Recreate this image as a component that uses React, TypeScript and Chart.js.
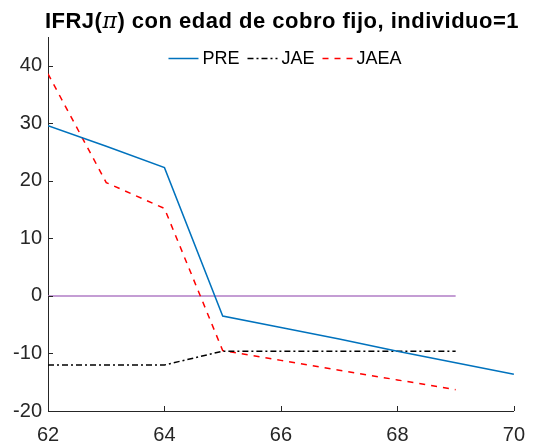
import React, { useEffect, useRef } from "react";
import { Chart, registerables } from "chart.js";

Chart.register(...registerables);

// ---- data ----
const titleParts = ["IFRJ(", "π", ") con edad de cobro fijo, individuo=1"];
const preAges = [62, 63, 64, 65, 66, 67, 68, 69, 70];
const preValues = [29.6, 26.0, 22.3, -3.5, -5.5, -7.5, -9.6, -11.6, -13.6];
const jaeAges = [62, 63, 64, 65, 66, 67, 68, 69];
const jaeValues = [-12.0, -12.0, -12.0, -9.6, -9.6, -9.6, -9.6, -9.6];
const jaeaAges = [62, 63, 64, 65, 66, 67, 68, 69];
const jaeaValues = [38.6, 19.7, 15.2, -9.5, -11.2, -12.9, -14.6, -16.3];
const zeroAges = [62, 63, 64, 65, 66, 67, 68, 69];
const zeroValues = [0, 0, 0, 0, 0, 0, 0, 0];
const seriesLabels = ["PRE", "JAE", "JAEA"];
const xTicks = [62, 64, 66, 68, 70];
const yTicks = [-20, -10, 0, 10, 20, 30, 40];

const FONT = '"Liberation Sans", Arial, Helvetica, sans-serif';
const AXIS_COLOR = "#262626";

const toPoints = (xs: number[], ys: number[]) => xs.map((x, i) => ({ x, y: ys[i] }));

const decorPlugin = {
  id: "matlabDecor",
  afterDraw(chart: any) {
    const ctx = chart.ctx as CanvasRenderingContext2D;
    const { chartArea } = chart;
    const xs = chart.scales.x;
    const ys = chart.scales.y;
    ctx.save();
    // inward ticks
    ctx.strokeStyle = AXIS_COLOR;
    ctx.lineWidth = 1;
    ctx.beginPath();
    xTicks.forEach((v) => {
      const px = Math.round(xs.getPixelForValue(v)) + 0.5;
      ctx.moveTo(px, chartArea.bottom);
      ctx.lineTo(px, chartArea.bottom - 5);
    });
    yTicks.forEach((v) => {
      const py = Math.round(ys.getPixelForValue(v)) + 0.5;
      ctx.moveTo(chartArea.left, py);
      ctx.lineTo(chartArea.left + 5, py);
    });
    ctx.stroke();

    // title
    const boldFont = `bold 22px ${FONT}`;
    const piFont = `italic 22px "DejaVu Serif", "Liberation Serif", serif`;
    const targetW = 474;
    const nChars = titleParts.join("").length;
    (ctx as any).letterSpacing = "0px";
    ctx.font = boldFont;
    let w0 = ctx.measureText(titleParts[0]).width;
    let w2 = ctx.measureText(titleParts[2]).width;
    ctx.font = piFont;
    let w1 = ctx.measureText(titleParts[1]).width;
    const spacing = Math.max(0, (targetW - (w0 + w1 + w2)) / nChars);
    (ctx as any).letterSpacing = `${spacing.toFixed(2)}px`;
    ctx.font = boldFont;
    w0 = ctx.measureText(titleParts[0]).width;
    w2 = ctx.measureText(titleParts[2]).width;
    ctx.font = piFont;
    w1 = ctx.measureText(titleParts[1]).width;
    const total = w0 + w1 + w2;
    const cx = 282;
    let tx = cx - total / 2;
    const ty = 28;
    ctx.fillStyle = "#000000";
    ctx.textBaseline = "alphabetic";
    ctx.textAlign = "left";
    ctx.font = boldFont;
    ctx.fillText(titleParts[0], tx, ty);
    tx += w0;
    ctx.font = piFont;
    ctx.fillText(titleParts[1], tx, ty);
    tx += w1;
    ctx.font = boldFont;
    ctx.fillText(titleParts[2], tx, ty);
    (ctx as any).letterSpacing = "0px";

    // legend
    ctx.font = `18px ${FONT}`;
    const lineLen = 30;
    const gapText = 4;
    const gapItem = 8;
    const items = chart.data.datasets.slice(0, 3);
    const widths = items.map((d: any) => ctx.measureText(d.label).width);
    const totalW = widths.reduce((a: number, w: number) => a + lineLen + gapText + w, 0) + gapItem * (items.length - 1);
    let lx = 285 - totalW / 2;
    const ly = 58;
    items.forEach((d: any, i: number) => {
      ctx.strokeStyle = d.borderColor;
      ctx.lineWidth = d.borderWidth;
      ctx.setLineDash(d.borderDash || []);
      ctx.beginPath();
      ctx.moveTo(lx, ly + 0.5);
      ctx.lineTo(lx + lineLen, ly + 0.5);
      ctx.stroke();
      ctx.setLineDash([]);
      lx += lineLen + gapText;
      ctx.fillStyle = "#000000";
      ctx.textBaseline = "middle";
      ctx.fillText(d.label, lx, ly + 1);
      lx += widths[i] + gapItem;
    });
    ctx.restore();
  },
};

export default function App() {
  const ref = useRef<HTMLCanvasElement | null>(null);
  useEffect(() => {
    document.body.style.margin = "0";
    const canvas = ref.current!;
    const chart = new Chart(canvas, {
      type: "line",
      data: {
        datasets: [
          {
            label: seriesLabels[0],
            data: toPoints(preAges, preValues),
            borderColor: "#0072BD",
            borderWidth: 1.5,
            pointRadius: 0,
            fill: false,
            tension: 0,
          },
          {
            label: seriesLabels[1],
            data: toPoints(jaeAges, jaeValues),
            borderColor: "#000000",
            borderWidth: 1.5,
            borderDash: [6, 3, 2, 3],
            pointRadius: 0,
            fill: false,
            tension: 0,
          },
          {
            label: seriesLabels[2],
            data: toPoints(jaeaAges, jaeaValues),
            borderColor: "#FF0000",
            borderWidth: 1.5,
            borderDash: [6, 6],
            pointRadius: 0,
            fill: false,
            tension: 0,
          },
          {
            label: "zero",
            data: toPoints(zeroAges, zeroValues),
            borderColor: "#b07cc6",
            borderWidth: 1.5,
            pointRadius: 0,
            fill: false,
            tension: 0,
          },
        ],
      },
      options: {
        responsive: false,
        animation: false,
        devicePixelRatio: 1,
        layout: { padding: { top: 37, right: 14, left: 0, bottom: 0 } },
        plugins: {
          legend: { display: false },
          title: { display: false },
          tooltip: { enabled: false },
        },
        scales: {
          x: {
            type: "linear",
            min: 62,
            max: 70,
            grid: { display: false, drawTicks: false },
            border: { display: true, color: AXIS_COLOR, width: 1 },
            ticks: {
              stepSize: 2,
              padding: 12,
              color: AXIS_COLOR,
              font: { family: FONT, size: 20 },
              maxRotation: 0,
            },
            afterBuildTicks: (scale: any) => {
              scale.ticks = xTicks.map((v) => ({ value: v }));
            },
            afterFit: (scale: any) => {
              scale.height = 36;
            },
          },
          y: {
            type: "linear",
            min: -20,
            max: 45,
            grid: { display: false, drawTicks: false },
            border: { display: true, color: AXIS_COLOR, width: 1 },
            ticks: {
              stepSize: 10,
              padding: 6,
              color: AXIS_COLOR,
              font: { family: FONT, size: 20 },
            },
            afterBuildTicks: (scale: any) => {
              scale.ticks = yTicks.map((v) => ({ value: v }));
            },
            afterFit: (scale: any) => {
              scale.width = 48;
            },
          },
        },
      },
      plugins: [decorPlugin],
    } as any);
    return () => chart.destroy();
  }, []);
  return (
    <canvas
      ref={ref}
      width={537}
      height={447}
      style={{ display: "block", width: 537, height: 447 }}
    />
  );
}
